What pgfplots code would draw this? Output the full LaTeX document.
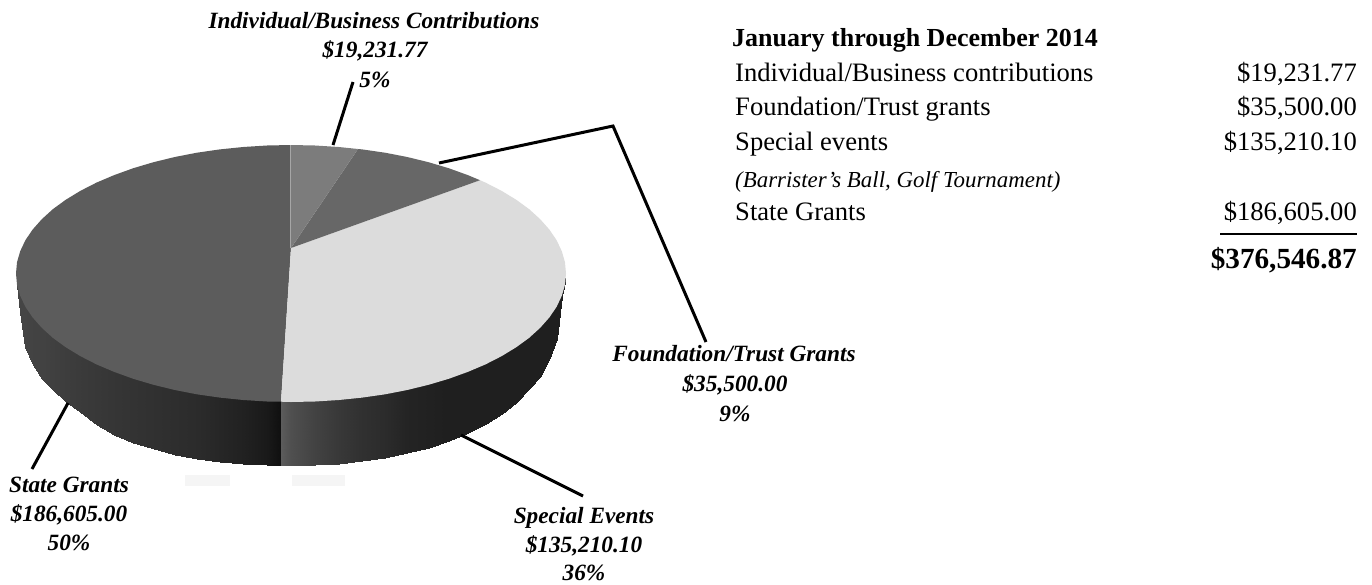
\documentclass[border=0pt]{standalone}
\usepackage{pgfplots}
\pgfplotsset{compat=1.18}
\usepackage{fontspec}
\setmainfont{Liberation Serif}

\definecolor{stateTop}{HTML}{5C5C5C}
\definecolor{specialTop}{HTML}{DCDCDC}
\definecolor{foundTop}{HTML}{676767}
\definecolor{indivTop}{HTML}{7C7C7C}

\newcommand{\lab}{\fontsize{23.3}{27}\selectfont\bfseries\itshape}
\newcommand{\row}{\fontsize{26.6}{30}\selectfont}

\begin{document}
\begin{tikzpicture}
\begin{axis}[
    scale only axis,
    width=1372pt,
    height=584pt,
    xmin=0, xmax=1372,
    ymin=0, ymax=584,
    y dir=reverse,
    hide axis,
    clip=false,
    point meta min=0,
    point meta max=1,
    colormap/blackwhite,
]

% faint reflections under the pie
\addplot[draw=none, fill=black!4] coordinates {(185,475) (230,475) (230,486) (185,486)};
\addplot[draw=none, fill=black!4] coordinates {(292,475) (345,475) (345,486) (292,486)};

% side of the pie, left part
\addplot[surf, shader=interp, mesh/cols=18, point meta=explicit] table[meta=c] {
x y c
17.5 280 .27
20.2 292.8 .27
25.4 303.8 .27
32.6 314.4 .26
41.8 324.8 .26
52.8 334.8 .25
65.7 344.2 .24
80.3 353.1 .23
96.5 361.4 .22
114.2 368.9 .21
133.3 375.8 .20
153.5 381.8 .19
174.8 387 .18
196.9 391.3 .17
219.8 394.6 .15
243.2 397 .13
267 398.5 .10
281 399 .06
17.5 285 .27
20.2 312 .27
25.4 347 .27
32.6 365 .26
41.8 379 .26
52.8 390 .25
65.7 402 .24
80.3 412 .23
96.5 425 .22
114.2 434.5 .21
133.3 443 .20
153.5 449 .19
174.8 454.5 .18
196.9 458.5 .17
219.8 461.5 .15
243.2 463.5 .13
267 464.8 .10
281 465 .06
};

% side of the pie, right part
\addplot[surf, shader=interp, mesh/cols=19, point meta=explicit] table[meta=c] {
x y c
281 399 .36
291 399 .31
315 398.5 .26
338.8 397 .22
362.2 394.6 .19
385.1 391.3 .17
407.2 387 .14
428.5 381.8 .13
448.7 375.8 .12
467.8 368.9 .12
485.5 361.4 .12
501.7 353.1 .12
516.3 344.2 .12
529.2 334.8 .12
540.2 324.8 .12
549.4 314.4 .12
556.6 303.8 .12
561.8 292.8 .12
565 278 .12
281 465 .36
291 465 .31
315 464.8 .26
338.8 463.5 .22
362.2 461 .19
385.1 458 .17
407.2 453 .14
428.5 447.5 .13
448.7 441 .12
467.8 433 .12
485.5 424 .12
501.7 413.5 .12
516.3 403 .12
529.2 389 .12
540.2 377 .12
549.4 360 .12
556.6 339 .12
561.8 296 .12
565 282 .12
};

% top of the pie
\addplot[draw=none, fill=stateTop] coordinates {
(291,248) (281,401.7) (267,401.5) (243.2,400) (219.8,397.6) (196.9,394.3) (174.8,390)
(153.5,384.8) (133.3,378.8) (114.2,371.9) (96.5,364.4) (80.3,356.1) (65.7,347.2)
(52.8,337.8) (41.8,327.8) (32.6,317.4) (25.4,306.8) (20.2,295.8) (17,284.7) (16,273.5)
(17,262.3) (20.2,251.2) (25.4,240.2) (32.6,229.6) (41.8,219.2) (52.8,209.2) (65.7,199.8)
(80.3,190.9) (96.5,182.6) (114.2,175.1) (133.3,168.2) (153.5,162.2) (174.8,157)
(196.9,152.7) (219.8,149.4) (243.2,147) (267,145.5) (291,145)
};
\addplot[draw=none, fill=specialTop] coordinates {
(291,248) (480,180.2) (485.5,182.6) (501.7,190.9) (516.3,199.8) (529.2,209.2) (540.2,219.2)
(549.4,229.6) (556.6,240.2) (561.8,251.2) (565,262.3) (566,273.5) (565,284.7)
(561.8,295.8) (556.6,306.8) (549.4,317.4) (540.2,327.8) (529.2,337.8) (516.3,347.2)
(501.7,356.1) (485.5,364.4) (467.8,371.9) (448.7,378.8) (428.5,384.8) (407.2,390)
(385.1,394.3) (362.2,397.6) (338.8,400) (315,401.5) (291,402) (281,401.7)
};
\addplot[draw=none, fill=foundTop] coordinates {
(291,248) (358,149) (362.2,149.4) (385.1,152.7) (407.2,157) (428.5,162.2) (448.7,168.2)
(467.8,175.1) (480,180.2)
};
\addplot[draw=none, fill=indivTop] coordinates {
(291,248) (291,145) (315,145.5) (338.8,147) (358,149)
};
\addplot[black!35, line width=1.2pt] coordinates {(290.5,248) (290.5,145)};

% leader lines
\addplot[black, line width=3pt] coordinates {(353,82) (333,145)};
\addplot[black, line width=3pt, miter limit=10] coordinates {(439,163) (613,126) (706,342)};
\addplot[black, line width=3pt] coordinates {(461,435) (583,496)};
\addplot[black, line width=3pt] coordinates {(68,403) (32,469)};

% rule above the total
\addplot[black, line width=2.7pt] coordinates {(1220,234) (1357,234)};

% slice labels
\node[anchor=base,font=\lab] at (axis cs:374,28) {Individual/Business Contributions};
\node[anchor=base,font=\lab] at (axis cs:375,57) {\$19,231.77};
\node[anchor=base,font=\lab] at (axis cs:375,87) {5\%};
\node[anchor=base,font=\lab] at (axis cs:734,361) {Foundation/Trust Grants};
\node[anchor=base,font=\lab] at (axis cs:735,391) {\$35,500.00};
\node[anchor=base,font=\lab] at (axis cs:735,421) {9\%};
\node[anchor=base,font=\lab] at (axis cs:584,523) {Special Events};
\node[anchor=base,font=\lab] at (axis cs:584,552) {\$135,210.10};
\node[anchor=base,font=\lab] at (axis cs:584,580) {36\%};
\node[anchor=base,font=\lab] at (axis cs:69,492) {State Grants};
\node[anchor=base,font=\lab] at (axis cs:69,521) {\$186,605.00};
\node[anchor=base,font=\lab] at (axis cs:69,550) {50\%};

% table on the right
\node[anchor=base west,inner sep=0pt,font=\fontsize{26}{30}\selectfont\bfseries] at (axis cs:732,46) {January through December 2014};
\node[anchor=base west,inner sep=0pt,font=\row] at (axis cs:735,81) {Individual/Business contributions};
\node[anchor=base west,inner sep=0pt,font=\row] at (axis cs:735,115) {Foundation/Trust grants};
\node[anchor=base west,inner sep=0pt,font=\row] at (axis cs:735,150) {Special events};
\node[anchor=base west,inner sep=0pt,font=\fontsize{22.9}{26}\selectfont\itshape] at (axis cs:735,187) {(Barrister's Ball, Golf Tournament)};
\node[anchor=base west,inner sep=0pt,font=\row] at (axis cs:735,220) {State Grants};
\node[anchor=base east,inner sep=0pt,font=\row] at (axis cs:1357,81) {\$19,231.77};
\node[anchor=base east,inner sep=0pt,font=\row] at (axis cs:1357,115) {\$35,500.00};
\node[anchor=base east,inner sep=0pt,font=\row] at (axis cs:1357,150) {\$135,210.10};
\node[anchor=base east,inner sep=0pt,font=\row] at (axis cs:1357,220) {\$186,605.00};
\node[anchor=base east,inner sep=0pt,font=\fontsize{29.2}{33}\selectfont\bfseries] at (axis cs:1357,268) {\$376,546.87};

\end{axis}
\pgfresetboundingbox
\path (0,0) rectangle (1372pt,584pt);
\end{tikzpicture}
\end{document}
